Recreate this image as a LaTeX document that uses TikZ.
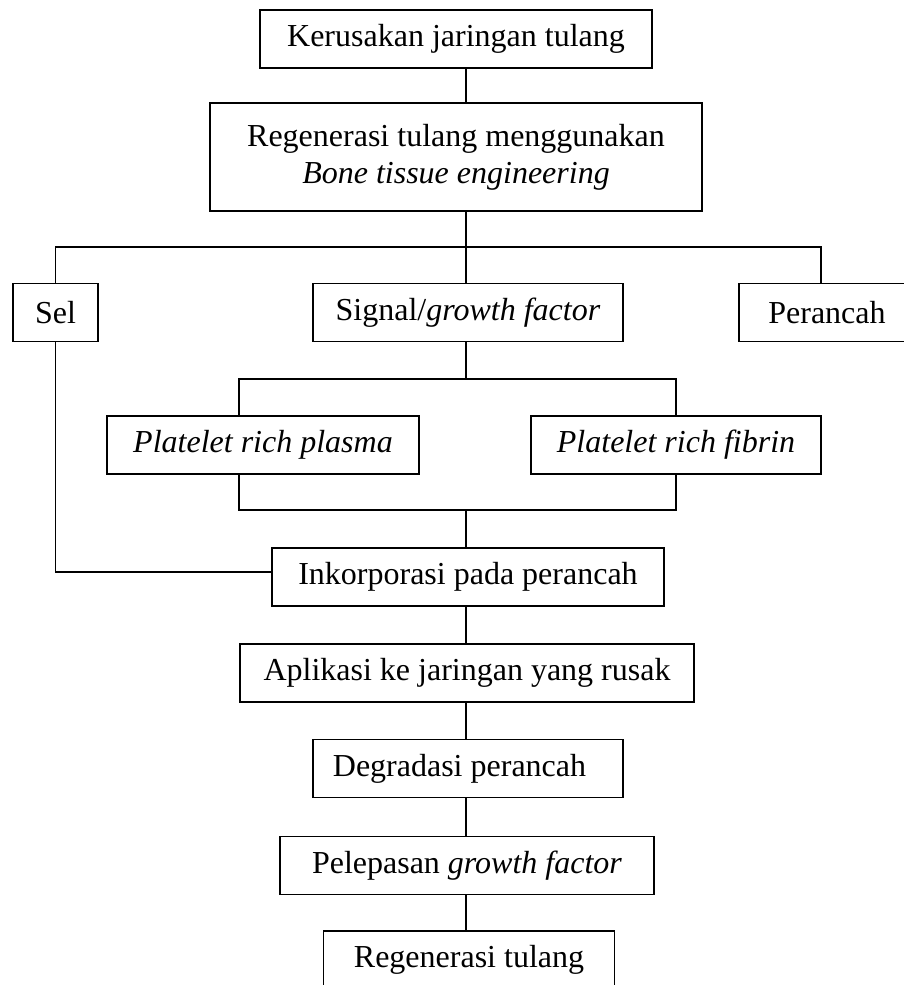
\documentclass[tikz,border=0pt]{standalone}
\usepackage{fontspec}
\setmainfont{Liberation Serif}
\usetikzlibrary{positioning,calc}

\begin{document}
\begin{tikzpicture}[x=1pt,y=-1pt,line width=1.5pt,
  every node/.style={font=\fontsize{32}{37}\selectfont},
  box/.style={draw,rectangle,inner sep=0pt,align=center,minimum height=58pt}]
  \useasboundingbox (0,0) rectangle (904,985);
  % boxes
  \node[box,minimum width=392pt] (rusak) at (456,39) {Kerusakan jaringan tulang};
  \node[box,minimum width=492pt,minimum height=108pt] (bte) at (456,157)
        {Regenerasi tulang menggunakan\\\textit{Bone tissue engineering}};
  \node[box,minimum width=85pt] (sel) at (55.5,312.5) {Sel};
  \node[box,minimum width=310pt] (sig) at (468,312.5) {Signal/\textit{growth factor}};
  \node[box,minimum width=176pt] (perancah) at (827,312.5) {Perancah};
  \node[box,minimum width=312pt] (prp) at (263,445) {\textit{Platelet rich plasma}};
  \node[box,minimum width=290pt] (prf) at (676,445) {\textit{Platelet rich fibrin}};
  \node[box,minimum width=392pt] (ink) at (468,577) {Inkorporasi pada perancah};
  \node[box,minimum width=454pt] (apl) at (467,673) {Aplikasi ke jaringan yang rusak};
  \node[box,minimum width=310pt] (deg) at (468,768.5) {Degradasi perancah\hspace*{17pt}};
  \node[box,minimum width=374pt] (lepas) at (467,865.5) {Pelepasan \textit{growth factor}};
  \node[box,minimum width=291pt] (regen) at (469,960) {Regenerasi tulang};
  % connectors
  \coordinate (trunk) at (466,0);
  \coordinate (bus1) at (466,247);
  \coordinate (bus2) at (466,379);
  \coordinate (bus3) at (466,510);
  \draw (rusak.south -| trunk) -- (bte.north -| trunk);
  \draw (bte.south -| trunk) -- (bus1);
  \draw (sel.north) |- (bus1) -| ([xshift=-6pt]perancah.north);
  \draw (bus1) -- (sig.north -| bus1);
  \draw (sig.south -| bus2) -- (bus2);
  \draw ([xshift=-24pt]prp.north) |- (bus2) -| (prf.north);
  \draw ([xshift=-24pt]prp.south) |- (bus3) -| (prf.south);
  \draw (bus3) -- (ink.north -| bus3);
  \draw (sel.south) |- ([yshift=5pt]ink.west);
  \foreach \a/\b in {ink/apl,apl/deg,deg/lepas,lepas/regen}
    \draw (\a.south -| trunk) -- (\b.north -| trunk);
\end{tikzpicture}
\end{document}
